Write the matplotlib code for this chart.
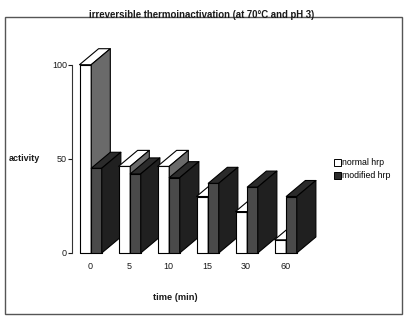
import numpy as np
import matplotlib
matplotlib.use("Agg")
from matplotlib import pyplot as plt
from matplotlib.patches import Rectangle, Polygon, Patch

times = ['0', '5', '10', '15', '30', '60']
normal_hrp = [100, 46, 46, 30, 22, 7]
modified_hrp = [45, 42, 40, 37, 35, 30]

plt.rcParams['font.family'] = ['Liberation Sans', 'DejaVu Sans']

# pseudo 3d depth offsets (data units)
DX = 0.49
DY = 8.5


def box(ax, x, w, h, front, top, side):
    kw = dict(edgecolor='black', linewidth=0.8, clip_on=False, joinstyle='round')
    ax.add_patch(Rectangle((x, 0), w, h, facecolor=front, **kw))
    ax.add_patch(Polygon([(x, h), (x + w, h), (x + w + DX, h + DY), (x + DX, h + DY)],
                         facecolor=top, **kw))
    ax.add_patch(Polygon([(x + w, 0), (x + w + DX, DY), (x + w + DX, h + DY), (x + w, h)],
                         facecolor=side, **kw))


fig = plt.figure(figsize=(4.13, 3.28), dpi=100)
ax = fig.add_axes([0.1755, 0.2287, 0.5714, 0.574])

x = np.arange(len(times))
for i in range(len(times)):
    box(ax, x[i] - 0.27, 0.30, normal_hrp[i], 'white', 'white', '#6a6a6a')
    box(ax, x[i] + 0.03, 0.27, modified_hrp[i], '#4a4a4a', '#2b2b2b', '#202020')

ax.set_xlim(-0.45, 5.6)
ax.set_ylim(0, 100)
for s in ['top', 'right', 'bottom']:
    ax.spines[s].set_visible(False)
ax.spines['left'].set_linewidth(0.8)
ax.spines['left'].set_color('#333333')
ax.set_yticks([0, 50, 100])
ax.set_xticks(x)
ax.set_xticklabels(times)
ax.tick_params(axis='y', length=3, width=0.8, pad=1, labelsize=6.5, colors='#1a1a1a')
ax.tick_params(axis='x', length=0, pad=6.5, labelsize=6.5, colors='#1a1a1a')
ax.patch.set_visible(False)

fig.text(0.488, 0.954, 'irreversible thermoinactivation (at 70°C and pH 3)',
         ha='center', va='center', fontsize=6.9, fontweight='bold', color='#1a1a1a')
fig.text(0.02, 0.518, 'activity', ha='left', va='center', fontsize=6.5,
         fontweight='bold', color='#1a1a1a')
fig.text(0.424, 0.0915, 'time (min)', ha='center', va='center', fontsize=6.7,
         fontweight='bold', color='#1a1a1a')

handles = [Patch(facecolor='white', edgecolor='black', linewidth=0.7),
           Patch(facecolor='#2b2b2b', edgecolor='black', linewidth=0.7)]
fig.legend(handles, ['normal hrp', 'modified hrp'], loc='center left',
           bbox_to_anchor=(0.808, 0.484), frameon=False, fontsize=6.3,
           handlelength=0.8, handleheight=0.8, handletextpad=0.2,
           labelspacing=0.45, borderpad=0, borderaxespad=0)

# outer frame
fig.patches.append(Rectangle((0.0121, 0.0427), 0.9613, 0.9053, transform=fig.transFigure,
                             fill=False, edgecolor='#555555', linewidth=1.0))

fig.savefig('out.png', dpi=100)
